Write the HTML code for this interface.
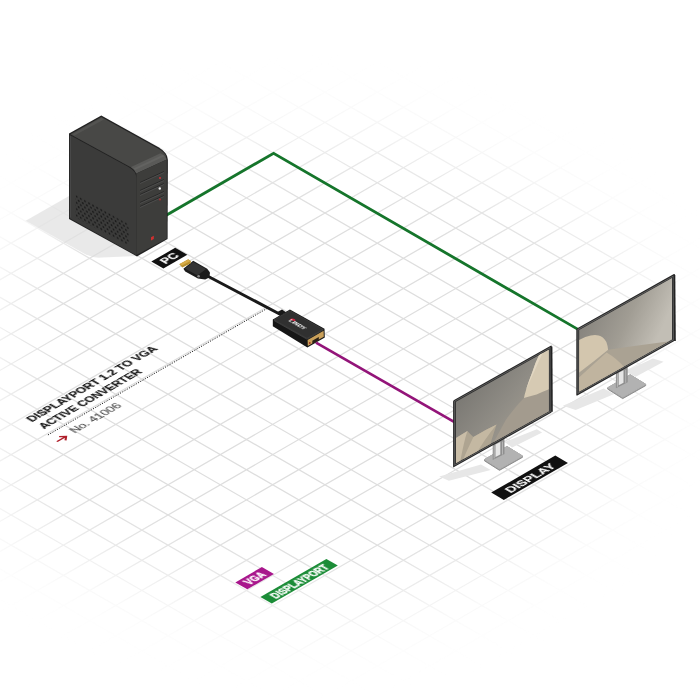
<!DOCTYPE html><html><head><meta charset="utf-8"><style>html,body{margin:0;padding:0;background:#fff;overflow:hidden}svg{display:block;transform:translateZ(0)}</style></head><body><svg width="700" height="700" viewBox="0 0 700 700"><defs><filter id="blur" x="-50%" y="-50%" width="200%" height="200%"><feGaussianBlur stdDeviation="38"/></filter><filter id="sb" x="-20%" y="-20%" width="140%" height="140%"><feGaussianBlur stdDeviation="0.6"/></filter><mask id="gm" maskUnits="userSpaceOnUse" x="0" y="0" width="700" height="700"><rect width="700" height="700" fill="#000"/><polygon points="5,265 100,200 200,145 400,145 540,205 620,255 655,320 640,420 590,490 500,560 400,600 300,612 175,585 5,520" fill="#fff" filter="url(#blur)"/></mask><pattern id="vent" patternUnits="userSpaceOnUse" x="6" y="57" width="4.1" height="6.3"><circle cx="1.0" cy="1.5" r="0.95" fill="#1a1a1a"/><circle cx="3.05" cy="4.65" r="0.95" fill="#1a1a1a"/></pattern><linearGradient id="scr1" x1="0" y1="0" x2="1" y2="1"><stop offset="0" stop-color="#7a7873"/><stop offset="0.5" stop-color="#8f8c85"/><stop offset="1" stop-color="#a59f93"/></linearGradient><linearGradient id="scr2" x1="0" y1="0" x2="1" y2="0.4"><stop offset="0" stop-color="#86837d"/><stop offset="0.55" stop-color="#a19d94"/><stop offset="1" stop-color="#c2beb5"/></linearGradient><filter id="gs" x="-10%%" y="-10%%" width="120%%" height="120%%"><feOffset dx="0" dy="0"/></filter></defs><rect width="700" height="700" fill="#fff"/><path d="M-10 -403.2L710 12.49M-10 -373L710 42.69M-10 -342.8L710 72.89M-10 -312.6L710 103.09M-10 -282.4L710 133.29M-10 -252.2L710 163.49M-10 -222L710 193.69M-10 -191.8L710 223.89M-10 -161.6L710 254.09M-10 -131.4L710 284.29M-10 -101.2L710 314.49M-10 -71L710 344.69M-10 -40.8L710 374.89M-10 -10.6L710 405.09M-10 19.6L710 435.29M-10 49.8L710 465.49M-10 80L710 495.69M-10 110.2L710 525.89M-10 140.4L710 556.09M-10 170.6L710 586.29M-10 200.8L710 616.49M-10 231L710 646.69M-10 261.2L710 676.89M-10 291.4L710 707.09M-10 321.6L710 737.29M-10 351.8L710 767.49M-10 382L710 797.69M-10 412.2L710 827.89M-10 442.4L710 858.09M-10 472.6L710 888.29M-10 502.8L710 918.49M-10 533L710 948.69M-10 563.2L710 978.89M-10 593.4L710 1009.09M-10 623.6L710 1039.29M-10 653.8L710 1069.49M-10 684L710 1099.69M-10 13.77L710 -401.92M-10 43.97L710 -371.72M-10 74.17L710 -341.52M-10 104.37L710 -311.32M-10 134.57L710 -281.12M-10 164.77L710 -250.92M-10 194.97L710 -220.72M-10 225.17L710 -190.52M-10 255.37L710 -160.32M-10 285.57L710 -130.12M-10 315.77L710 -99.92M-10 345.97L710 -69.72M-10 376.17L710 -39.52M-10 406.37L710 -9.32M-10 436.57L710 20.88M-10 466.77L710 51.08M-10 496.97L710 81.28M-10 527.17L710 111.48M-10 557.37L710 141.68M-10 587.57L710 171.88M-10 617.77L710 202.08M-10 647.97L710 232.28M-10 678.17L710 262.48M-10 708.37L710 292.68M-10 738.57L710 322.88M-10 768.77L710 353.08M-10 798.97L710 383.28M-10 829.17L710 413.48M-10 859.37L710 443.68M-10 889.57L710 473.88M-10 919.77L710 504.08M-10 949.97L710 534.28M-10 980.17L710 564.48M-10 1010.37L710 594.68M-10 1040.57L710 624.88M-10 1070.77L710 655.08M-10 1100.97L710 685.28" stroke="#dedede" stroke-width="1.25" fill="none" mask="url(#gm)"/><path d="M69 196 L25.7 220.7 L84 253.5 Q93 258.5 102 257.5 L137 256 L69.7 219 Z" fill="#dcdcdc" opacity="0.62"/><polyline points="165,216 273.6,153.3 578,329.4" fill="none" stroke="#15752b" stroke-width="2.8" stroke-linejoin="miter"/><path d="M69 133.6 L101.3 115.6 L158.5 147.3 Q167.9 152.8 167.9 160 L167.6 238.9 L137 256.4 L69 218.9 Z" fill="#222"/><path d="M70.3 134.2 L101.3 117 L158 148.5 Q164.5 152 166.3 156.5 L136 172 Q134 168.5 128 165.8 Z" fill="#484846"/><path d="M72 134.3 L101.3 118 L104 119.5 L74.5 135.6 Z" fill="#535351"/><path d="M69.8 134.9 L127.6 166.4 Q136.3 171 136.4 177.5 L136.4 255.2 L69.8 218.2 Z" fill="#3b3b3a"/><line x1="70.5" y1="136" x2="70.5" y2="217.5" stroke="#4a4a4a" stroke-width="0.9"/><path d="M131 166.9 L160.5 153.3 Q165.5 155.5 166.8 159.5 L136.3 173.5 Q135 170 131 166.9 Z" fill="#5a5a58"/><path d="M133.5 168.5 L162.8 154.8 L164.5 156.3 L135 170 Z" fill="#636361"/><polygon points="136.4,173.5 166.8,159.5 166.8,238.4 136.4,255" fill="#3d3d3b"/><line x1="140" y1="182.5" x2="164" y2="171.5" stroke="#262626" stroke-width="0.9"/><line x1="140" y1="183.5" x2="164" y2="172.5" stroke="#585858" stroke-width="0.6"/><line x1="140" y1="190.5" x2="164" y2="179.5" stroke="#262626" stroke-width="0.9"/><line x1="140" y1="191.5" x2="164" y2="180.5" stroke="#585858" stroke-width="0.6"/><line x1="140" y1="194.5" x2="164" y2="183.5" stroke="#262626" stroke-width="0.9"/><line x1="140" y1="195.5" x2="164" y2="184.5" stroke="#585858" stroke-width="0.6"/><line x1="140" y1="202.5" x2="164" y2="191.5" stroke="#262626" stroke-width="0.9"/><line x1="140" y1="203.5" x2="164" y2="192.5" stroke="#585858" stroke-width="0.6"/><line x1="140" y1="206.5" x2="164" y2="195.5" stroke="#262626" stroke-width="0.9"/><line x1="140" y1="207.5" x2="164" y2="196.5" stroke="#585858" stroke-width="0.6"/><circle cx="160" cy="178" r="1.1" fill="#c8323a"/><circle cx="159.8" cy="188.5" r="1.2" fill="#eee"/><circle cx="160" cy="199.5" r="1.0" fill="#b02a30"/><polygon points="151,237.2 153.8,235.8 153.8,239 151,240.4" fill="#d23030"/><path d="M6 57 L59 57 L59 79 L6 80 Z" transform="matrix(1,0.55,0,1,69.7,134.3)" fill="url(#vent)"/><g transform="matrix(0.866,-0.5,0.866,0.5,151.3,261.6)"><rect width="27.6" height="14" fill="#111"/><text filter="url(#gs)" x="13.8" y="11.4" font-family="Liberation Sans" font-weight="bold" font-size="11.8" fill="#fff" stroke="#fff" stroke-width="0.25" text-anchor="middle">PC</text></g><path d="M206 275.2 L280 314.2" stroke="#1a1a1a" stroke-width="2.9" stroke-linecap="round"/><polygon points="183.4,268.8 193.2,260.8 207.2,268.8 210,272.5 209.3,277.5 205.2,279.4 197.9,278.6 185.2,271.6" fill="#1b1b1b"/><polygon points="185,268.5 193.3,262 206,269 197.5,275.5" fill="#333"/><circle cx="198.6" cy="276.3" r="1.3" fill="#8a8a8a"/><polygon points="179.3,264.3 188.2,259.2 190.9,261.1 190.6,263.5 182.3,267.6" fill="#b8902c"/><polygon points="179.6,264 188.2,259.4 190.5,261 182,265.6" fill="#d8ac48"/><polygon points="276.5,312.5 282,309.5 286,312.2 280.5,315.5" fill="#181818"/><polygon points="272.8,319.6 289.9,309.6 324.5,328.8 324.8,337.5 307.4,347.6 272.8,326.2" fill="#161616"/><polygon points="274,319.8 289.9,310.7 323,329.3 307,338.4" fill="#303030" stroke="#474747" stroke-width="0.6"/><polyline points="274,320.5 307,339.2 323.5,329.7" fill="none" stroke="#4a4a4a" stroke-width="0.7"/><polygon points="307.6,340 323.6,330.8 323.8,336.8 307.8,346" fill="#c9a05a"/><polygon points="312.3,340.8 318.8,337 318.8,340.2 312.3,344" fill="#2a2016"/><circle cx="309.8" cy="343" r="0.9" fill="#a03020"/><g transform="matrix(0.866,0.5,-0.866,0.5,296.8,325)"><path d="M-9.8 -1.2 Q-9.8 -4.6 -7 -4.6 Q-5 -4.6 -5 -2.5 Z" fill="#d0213e"/><text filter="url(#gs)" x="0" y="1" font-family="Liberation Sans" font-weight="bold" font-size="5.8" fill="#fff" text-anchor="middle" textLength="18" lengthAdjust="spacingAndGlyphs">LINDY</text></g><line x1="316" y1="342.6" x2="454.5" y2="422.2" stroke="#931479" stroke-width="2.7"/><line x1="47.95" y1="434.95" x2="267.31" y2="308.3" stroke="#222" stroke-width="1" stroke-dasharray="1.2 1.4"/><g transform="matrix(0.866,-0.5,0.866,0.5,32.1,422.3)" font-family="Liberation Sans"><text filter="url(#gs)" x="0" y="0" font-weight="bold" font-size="11.7" fill="#151515" stroke="#151515" stroke-width="0.2" textLength="146" lengthAdjust="spacingAndGlyphs">DISPLAYPORT 1.2 TO VGA</text><text filter="url(#gs)" x="0" y="14.3" font-weight="bold" font-size="11.7" fill="#151515" stroke="#151515" stroke-width="0.2" textLength="114" lengthAdjust="spacingAndGlyphs">ACTIVE CONVERTER</text><text filter="url(#gs)" x="13.4" y="36.3" font-size="10.8" fill="#4a4a4a" stroke="#4a4a4a" stroke-width="0.15" textLength="55" lengthAdjust="spacingAndGlyphs">No. 41006</text><path d="M-5 33.7 L5 33.7 M1.2 30 L5.6 33.7 L1.2 37.4" stroke="#b0202c" stroke-width="1.7" fill="none"/></g><polygon points="625,371.4 652.9,358.6 663.6,361.8 635.7,376.8" fill="#e7e7e7"/><polygon points="562.9,405.7 603.6,388.6 614.3,393.9 575.7,410" fill="#e7e7e7"/><polygon points="504.6,442.1 536.8,429.3 542.1,432.5 512.1,447.5" fill="#e7e7e7"/><polygon points="439.3,476.4 481,464.6 490.7,470 448.9,480.7" fill="#e7e7e7"/><polygon points="607.7,387.8 630.2,374.8 645.7,384.3 645.7,385.6 622.7,398.6 607.7,389.1" fill="#8e8e8e" stroke="#8e8e8e" stroke-width="1" stroke-linejoin="round"/><polygon points="607.7,387.8 630.2,374.8 645.7,384.3 622.7,397.3" fill="#b2b2b2" stroke="#b2b2b2" stroke-width="1" stroke-linejoin="round"/><polygon points="615.9,372.3 627.7,366.3 627.7,382.3 615.9,388.3" fill="#8f8f8f"/><polygon points="618.7,372.8 623.5,370.3 623.5,382.8 618.7,385.3" fill="#e6e6e6"/><rect x="616.9" y="373.8" width="0.9" height="13" fill="#bdbdbd"/><rect x="625.2" y="369.8" width="1" height="13" fill="#b5b5b5"/><g transform="matrix(1,-0.56,0,1,577.1,329.1)"><rect x="-0.8" y="-0.8" width="98.6" height="67.2" fill="#262626" rx="1"/><rect x="0.4" y="0.4" width="96.2" height="64.8" fill="#666"/><rect x="1.2" y="1.2" width="94.6" height="63.2" fill="#303030"/><clipPath id="cp2"><rect x="2.1" y="2.1" width="92.8" height="61.4"/></clipPath><g clip-path="url(#cp2)"><rect width="97" height="66" fill="url(#scr2)"/><path d="M0 45 L29.5 37.5 Q60 50 97 66 L0 66 Z" fill="#aaa293"/><path d="M0 50 Q15 45 29.5 40 Q40 52 48 66 L0 66 Z" fill="#c0b49f"/><path d="M0 12 Q8 12 13.6 14.1 Q18 15.5 21.5 18.5 Q26 22 29.3 29.2 Q30.5 33 31 38 Q16 42 0 45 Z" fill="#d3c6ae"/></g></g><line x1="674.5" y1="275" x2="675" y2="341" stroke="#222" stroke-width="1.6"/><polygon points="484.5,459.5 507,446.5 522.5,456 522.5,457.3 499.5,470.3 484.5,460.8" fill="#8e8e8e" stroke="#8e8e8e" stroke-width="1" stroke-linejoin="round"/><polygon points="484.5,459.5 507,446.5 522.5,456 499.5,469" fill="#b2b2b2" stroke="#b2b2b2" stroke-width="1" stroke-linejoin="round"/><polygon points="492.7,444 504.5,438 504.5,454 492.7,460" fill="#8f8f8f"/><polygon points="495.5,444.5 500.3,442 500.3,454.5 495.5,457" fill="#e6e6e6"/><rect x="493.7" y="445.5" width="0.9" height="13" fill="#bdbdbd"/><rect x="502" y="441.5" width="1" height="13" fill="#b5b5b5"/><g transform="matrix(1,-0.56,0,1,453.9,400.8)"><rect x="-0.8" y="-0.8" width="98.6" height="67.2" fill="#262626" rx="1"/><rect x="0.4" y="0.4" width="96.2" height="64.8" fill="#666"/><rect x="1.2" y="1.2" width="94.6" height="63.2" fill="#303030"/><clipPath id="cp1"><rect x="2.1" y="2.1" width="92.8" height="61.4"/></clipPath><g clip-path="url(#cp1)"><rect width="97" height="66" fill="url(#scr1)"/><path d="M52 48 Q62 40 70.1 36.5 L96.2 42 L97 66 L38 66 Z" fill="#a39b8e"/><path d="M86.3 0 Q81 8 78.2 15.8 Q74 24 71.9 30.3 Q70.5 34 70.1 36.5 Q76 38 82.7 39.9 Q90 41 97 42.1 L97 0 Z" fill="#d6cab3"/><path d="M86.3 0 Q81 8 78.2 15.8 Q74 24 71.9 30.3 Q74.5 25 79 18 Q84 9 90 0 Z" fill="#e2d7c2"/><path d="M0 38.5 L13.5 37.7 Q16 42 19.5 47 Q31 46.5 42.7 47.5 Q40 54 37.5 61 L36 66 L0 66 Z" fill="#aea491"/><path d="M0 38.5 L13.5 37.7 Q10 46 6 66 L0 66 Z" fill="#c9bda7"/><path d="M19.5 47 Q31 46.5 42.7 47.5 Q30 56 22 66 L8 66 Q14 55 19.5 47 Z" fill="#c4b8a2"/></g></g><line x1="551.6" y1="346.5" x2="552" y2="411.8" stroke="#222" stroke-width="1.6"/><g transform="matrix(0.866,-0.5,0.866,0.5,491.2,492.6)"><rect width="74" height="14.6" fill="#111"/><text filter="url(#gs)" x="37" y="12" font-family="Liberation Sans" font-weight="bold" font-size="11.8" fill="#fff" stroke="#fff" stroke-width="0.1" text-anchor="middle" textLength="53" lengthAdjust="spacingAndGlyphs">DISPLAY</text></g><g transform="matrix(0.866,-0.5,0.866,0.5,235.3,582.4)"><rect width="30.7" height="13.9" fill="#a8168c"/><text filter="url(#gs)" x="15.35" y="10.9" font-family="Liberation Sans" font-weight="bold" font-size="10" fill="#fff" stroke="#fff" stroke-width="0.35" text-anchor="middle" textLength="20" lengthAdjust="spacingAndGlyphs">VGA</text></g><g transform="matrix(0.866,-0.5,0.866,0.5,260.4,597)"><rect width="76.2" height="13.2" fill="#1b8c37"/><text filter="url(#gs)" x="38.1" y="10.6" font-family="Liberation Sans" font-weight="bold" font-size="10.2" fill="#fff" stroke="#fff" stroke-width="0.35" text-anchor="middle" textLength="62" lengthAdjust="spacingAndGlyphs">DISPLAYPORT</text></g></svg></body></html>
